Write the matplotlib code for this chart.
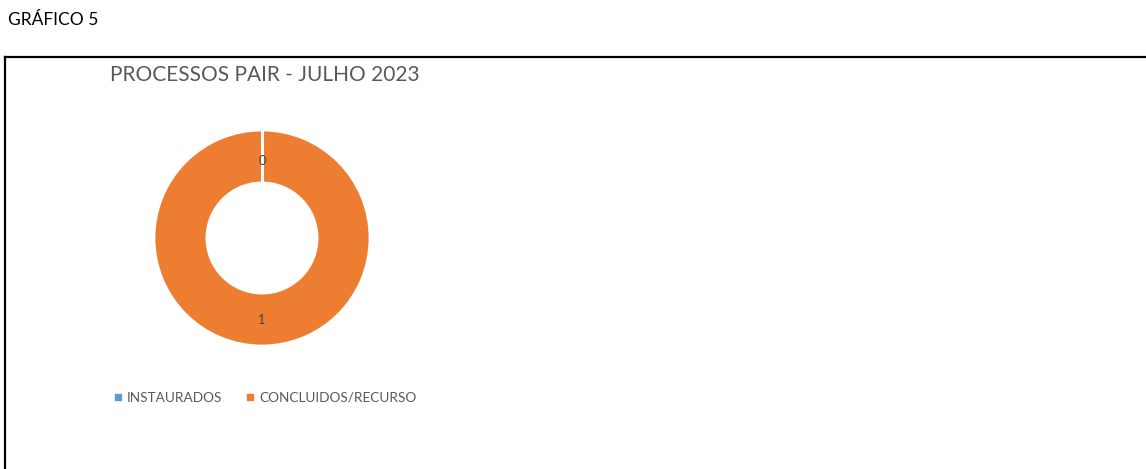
import matplotlib
matplotlib.use("Agg")
import matplotlib.pyplot as plt
from matplotlib.lines import Line2D
import numpy as np

plt.rcParams["font.family"] = ["Lato", "DejaVu Sans"]

categories = ["INSTAURADOS", "CONCLUIDOS/RECURSO"]
values = [0, 1]
colors = ["#5B9BD5", "#ED7D31"]
title = "PROCESSOS PAIR - JULHO 2023"
header = "GRÁFICO 5"

W, H = 1146, 469
fig = plt.figure(figsize=(W / 100, H / 100), dpi=100)

# donut: centre (262, 238) px, outer radius 108 px
cx, cy, r = 262, 238, 108
ax = fig.add_axes([(cx - r) / W, (H - cy - r) / H, 2 * r / W, 2 * r / H])
ring = 0.49
wedges, _ = ax.pie(values, colors=colors, startangle=90, counterclock=False,
                   radius=1, wedgeprops=dict(width=ring, edgecolor="white", linewidth=2))
ax.set_xlim(-1, 1)
ax.set_ylim(-1, 1)
ax.axis("off")

# white separator where the empty slice sits
for w, v in zip(wedges, values):
    if v == 0:
        a = np.deg2rad(w.theta1)
        ax.plot([(1 - ring) * np.cos(a), np.cos(a)], [(1 - ring) * np.sin(a), np.sin(a)],
                color="white", lw=2.2, solid_capstyle="butt")

lab_r = 1 - ring / 2 - 0.02
for w, v in zip(wedges, values):
    ang = np.deg2rad((w.theta1 + w.theta2) / 2)
    ax.text(lab_r * np.cos(ang), lab_r * np.sin(ang) - 0.02, str(v), ha="center", va="center",
            fontsize=9, color="#404040")

fig.text(8 / W, 1 - 20 / H, header, fontsize=12.5, color="black", va="center", ha="left")
fig.text(110 / W, 1 - 75 / H, title, fontsize=15, color="#595959", va="center", ha="left")

handles = [Line2D([], [], marker="s", ls="none", markersize=5, color=c) for c in colors]
fig.legend(handles, categories, loc="center", bbox_to_anchor=(265 / W, 1 - 398 / H),
           ncol=2, frameon=False, fontsize=9.8, handlelength=0.6,
           handletextpad=0.4, columnspacing=1.7, labelcolor="#595959")

# chart border (top and left edges visible)
fig.add_artist(Line2D([5 / W, 1], [1 - 57 / H, 1 - 57 / H], color="black", lw=1.6,
                      transform=fig.transFigure))
fig.add_artist(Line2D([5 / W, 5 / W], [1 - 57 / H, 0], color="black", lw=1.6,
                      transform=fig.transFigure))

fig.savefig("out.png", dpi=100, facecolor="white")
